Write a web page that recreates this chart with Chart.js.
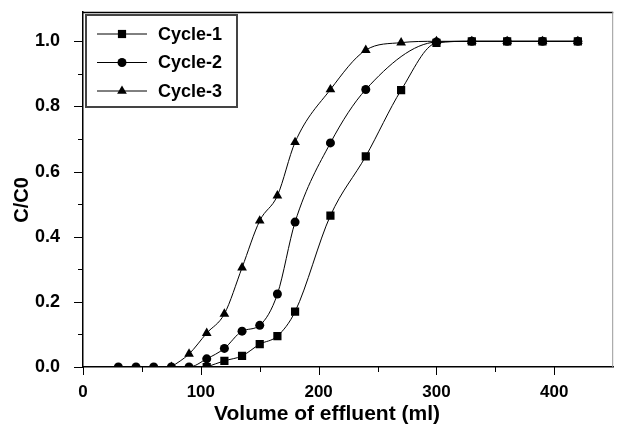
<!DOCTYPE html>
<html>
<head>
<meta charset="utf-8">
<script src="https://cdn.jsdelivr.net/npm/chart.js@4/dist/chart.umd.min.js"></script>
<style>
  html, body { margin: 0; padding: 0; background: #fff; }
  #wrap { width: 619px; height: 426px; position: relative; }
</style>
</head>
<body>
<div id="wrap"><canvas id="breakthrough"></canvas></div>
<script>
// effluent volume (ml) and C/C0 for each regeneration cycle
const volume1 = [105, 120, 135, 150, 165, 180, 210, 240, 270, 300, 330, 360, 390, 420];
const cycle1 = [0, 0.019, 0.034, 0.07, 0.095, 0.17, 0.465, 0.647, 0.85, 0.995, 1, 1, 1, 1];

const volume2 = [30, 45, 60, 75, 90, 105, 120, 135, 150, 165, 180, 210, 240, 300, 330, 360, 390, 420];
const cycle2 = [0, 0, 0, 0, 0, 0.025, 0.057, 0.11, 0.128, 0.224, 0.445, 0.688, 0.852, 0.998, 1, 1, 1, 1];

const volume3 = [75, 90, 105, 120, 135, 150, 165, 180, 210, 240, 270, 300, 330, 360, 390, 420];
const cycle3 = [0, 0.04, 0.104, 0.163, 0.305, 0.449, 0.526, 0.69, 0.852, 0.973, 0.996, 1, 1, 1, 1, 1];

const seriesNames = ['Cycle-1', 'Cycle-2', 'Cycle-3'];
const xTicks = [0, 100, 200, 300, 400];
const yTicks = [0, 0.2, 0.4, 0.6, 0.8, 1.0];
const xTitle = 'Volume of effluent (ml)';
const yTitle = 'C/C0';

const FONT = '"Liberation Sans", Arial, sans-serif';

function toPoints(xs, ys) {
  return xs.map((x, i) => ({ x: x, y: ys[i] }));
}

function series(label, xs, ys, style, radius, order) {
  return {
    label: label,
    data: toPoints(xs, ys),
    borderColor: '#000',
    backgroundColor: '#000',
    borderWidth: 1,
    pointStyle: style,
    pointRadius: radius,
    pointBorderWidth: 0,
    pointBackgroundColor: '#000',
    cubicInterpolationMode: 'monotone',
    order: order
  };
}

function drawMarker(ctx, style, x, y, r) {
  ctx.beginPath();
  if (style === 'rect') {
    const s = Math.SQRT1_2 * r;
    ctx.rect(x - s, y - s, 2 * s, 2 * s);
  } else if (style === 'circle') {
    ctx.arc(x, y, r, 0, Math.PI * 2);
  } else {
    ctx.moveTo(x, y - r);
    ctx.lineTo(x + r * Math.sin(Math.PI * 2 / 3), y + r / 2);
    ctx.lineTo(x - r * Math.sin(Math.PI * 2 / 3), y + r / 2);
    ctx.closePath();
  }
  ctx.fill();
}

// frame, tick marks (major + minor), axis titles and the boxed legend
const decorations = {
  id: 'decorations',
  afterDraw(chart) {
    const ctx = chart.ctx;
    const area = chart.chartArea;
    const xs = chart.scales.x;
    const ys = chart.scales.y;
    ctx.save();

    ctx.strokeStyle = '#000';
    ctx.lineWidth = 1.5;
    ctx.beginPath();
    ctx.moveTo(area.left, area.top + 0.5);
    ctx.lineTo(area.right, area.top + 0.5);
    ctx.stroke();
    ctx.strokeStyle = '#999';
    ctx.lineWidth = 1;
    ctx.beginPath();
    ctx.moveTo(area.right - 0.5, area.top);
    ctx.lineTo(area.right - 0.5, area.bottom);
    ctx.stroke();

    ctx.strokeStyle = '#000';
    ctx.lineWidth = 1;
    for (let v = 0; v <= 400; v += 50) {
      const px = Math.round(xs.getPixelForValue(v)) + 0.5;
      const len = v % 100 === 0 ? 8 : 5;
      ctx.beginPath();
      ctx.moveTo(px, area.bottom);
      ctx.lineTo(px, area.bottom + len);
      ctx.stroke();
    }
    for (let k = 0; k <= 10; k++) {
      const py = Math.round(ys.getPixelForValue(k / 10)) + 0.5;
      const len = k % 2 === 0 ? 9 : 5;
      ctx.beginPath();
      ctx.moveTo(area.left, py);
      ctx.lineTo(area.left - len, py);
      ctx.stroke();
    }

    // axis titles
    ctx.fillStyle = '#000';
    ctx.textAlign = 'center';
    ctx.textBaseline = 'alphabetic';
    ctx.font = 'bold 21px ' + FONT;
    ctx.fillText(xTitle, 327, 420);
    ctx.save();
    ctx.translate(28, 200);
    ctx.rotate(-Math.PI / 2);
    ctx.font = 'bold 20px ' + FONT;
    ctx.fillText(yTitle, 0, 0);
    ctx.restore();

    // legend
    const bx = area.left + 3, by = area.top + 3, bw = 151, bh = 92;
    ctx.strokeStyle = '#444';
    ctx.lineWidth = 2;
    ctx.strokeRect(bx, by, bw, bh);
    ctx.font = 'bold 18px ' + FONT;
    ctx.textBaseline = 'middle';
    ctx.textAlign = 'left';
    chart.data.datasets.forEach((ds, i) => {
      const y = by + 19 + i * 28.5;
      ctx.strokeStyle = '#000';
      ctx.lineWidth = 1;
      ctx.beginPath();
      ctx.moveTo(bx + 11, y);
      ctx.lineTo(bx + 61, y);
      ctx.stroke();
      ctx.fillStyle = '#000';
      drawMarker(ctx, ds.pointStyle, bx + 36, y, ds.pointRadius);
      ctx.fillText(seriesNames[i], bx + 72, y + 1);
    });
    ctx.restore();
  }
};

new Chart(document.getElementById('breakthrough'), {
  type: 'line',
  data: {
    datasets: [
      series(seriesNames[0], volume1, cycle1, 'rect', 5.8, 0),
      series(seriesNames[1], volume2, cycle2, 'circle', 4.5, 1),
      series(seriesNames[2], volume3, cycle3, 'triangle', 5.6, 2)
    ]
  },
  options: {
    responsive: true,
    maintainAspectRatio: false,
    animation: false,
    layout: { padding: { top: 12, right: 2, left: 0, bottom: 0 } },
    plugins: {
      legend: { display: false },
      tooltip: { enabled: false }
    },
    scales: {
      x: {
        type: 'linear',
        min: 0,
        max: 450,
        afterFit(scale) {
          scale.height = 59;
          scale.paddingLeft = 0;
          scale.paddingRight = 0;
        },
        afterBuildTicks(scale) { scale.ticks = xTicks.map(v => ({ value: v })); },
        grid: { display: false },
        border: { display: true, color: '#000', width: 1.5 },
        ticks: {
          color: '#000',
          padding: 7,
          maxRotation: 0,
          font: { family: FONT, size: 17, weight: 'bold' }
        }
      },
      y: {
        min: 0,
        max: 1.09,
        afterFit(scale) {
          scale.width = 83;
          scale.paddingTop = 0;
          scale.paddingBottom = 0;
        },
        afterBuildTicks(scale) { scale.ticks = yTicks.map(v => ({ value: v })); },
        grid: { display: false },
        border: { display: true, color: '#000', width: 1.5 },
        ticks: {
          color: '#000',
          padding: 15,
          callback: v => v.toFixed(1),
          font: { family: FONT, size: 18, weight: 'bold' }
        }
      }
    }
  },
  plugins: [decorations]
});
</script>
</body>
</html>
